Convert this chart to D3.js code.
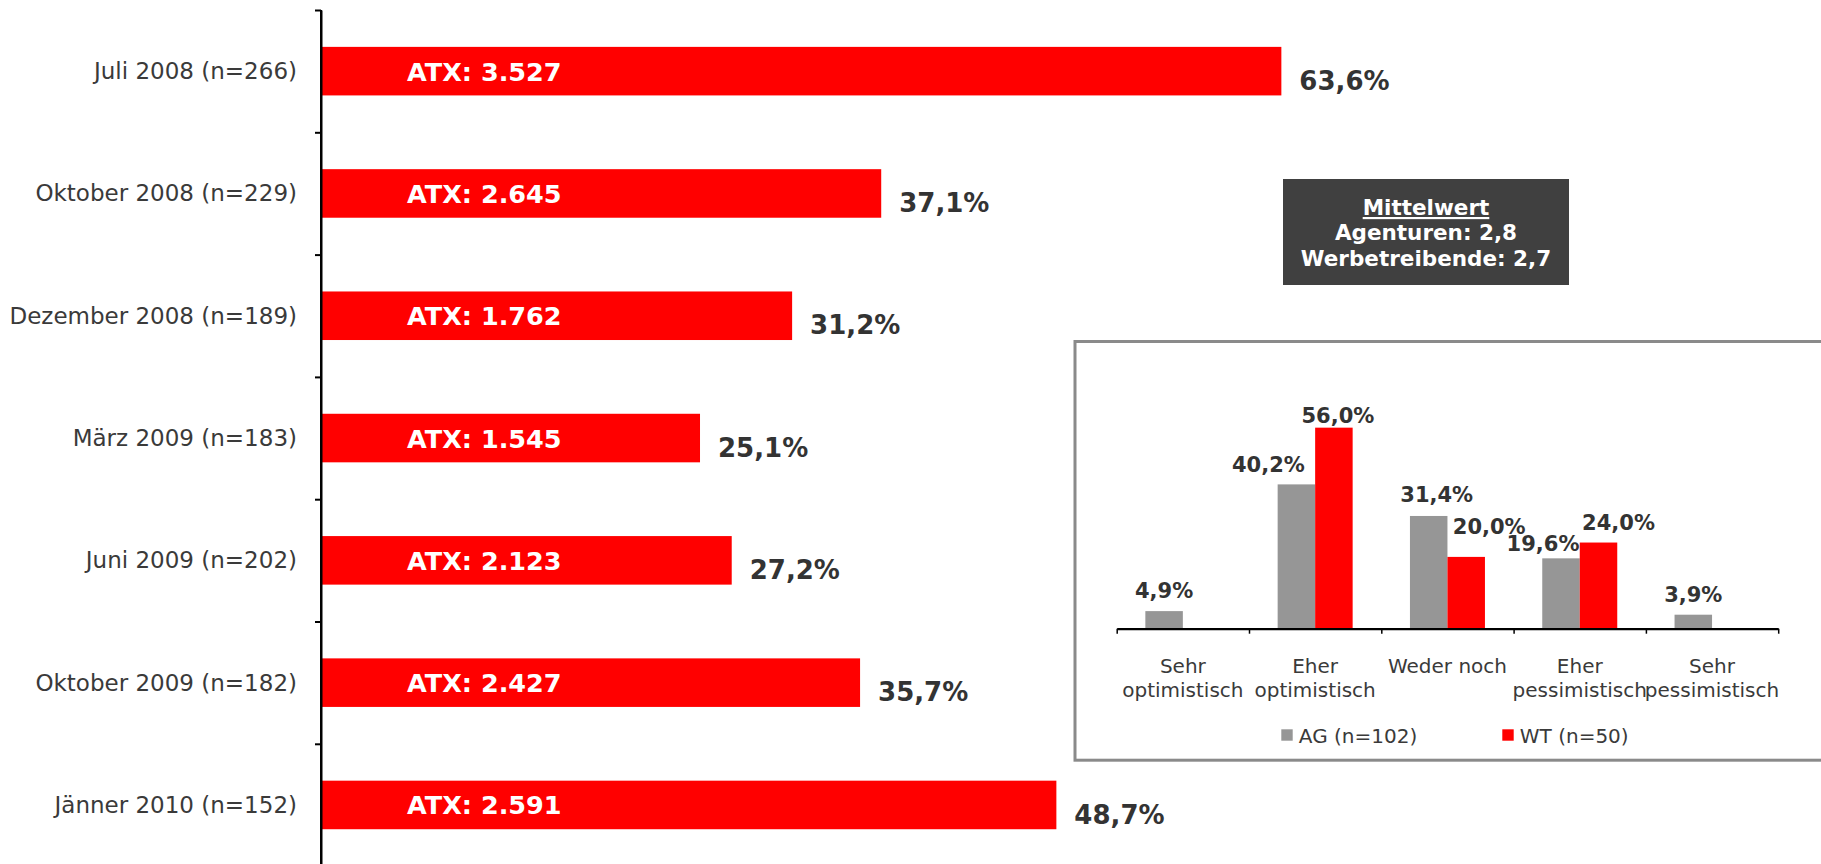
<!DOCTYPE html>
<html><head><meta charset="utf-8">
<script src="https://cdn.jsdelivr.net/npm/d3@7"></script>
<style>html,body{margin:0;padding:0;background:#fff;}svg{display:block;font-family:"DejaVu Sans",Verdana,sans-serif;}</style>
</head><body>
<script>
// ---- data ----
const periods = ["Juli 2008 (n=266)", "Oktober 2008 (n=229)", "Dezember 2008 (n=189)", "März 2009 (n=183)", "Juni 2009 (n=202)", "Oktober 2009 (n=182)", "Jänner 2010 (n=152)"];
const optimismShare = [63.6, 37.1, 31.2, 25.1, 27.2, 35.7, 48.7];
const atxValues = [3527, 2645, 1762, 1545, 2123, 2427, 2591];

const insetCategories = ["Sehr\noptimistisch", "Eher\noptimistisch", "Weder noch", "Eher\npessimistisch", "Sehr\npessimistisch"];
const agValues = [4.9, 40.2, 31.4, 19.6, 3.9];
const wtValues = [null, 56.0, 20.0, 24.0, null];
const seriesNames = ["AG (n=102)", "WT (n=50)"];
const meanLines = ["Mittelwert", "Agenturen: 2,8", "Werbetreibende: 2,7"];

// ---- drawing ----
(function () {
const W = 1821, H = 864;
const de = d3.formatLocale({decimal: ",", thousands: ".", grouping: [3], currency: ["", "€"]});
const fmtPct = v => de.format(".1f")(v) + "%";
const fmtAtx = de.format(",");

const svg = d3.select("body").append("svg").attr("width", W).attr("height", H);

// main chart
const axisX = 321, topY = 10, slot = 122.3;
const y = d3.scaleBand().domain(periods).range([topY, topY + slot * periods.length]).paddingInner(0.603).paddingOuter(0.3015);
const x = d3.scaleLinear().domain([0, 100]).range([axisX, axisX + 1510]);
const yTicks = d3.scaleLinear().domain([0, periods.length]).range([topY, topY + slot * periods.length]);

const main = svg.append("g");
main.selectAll("rect.bar").data(periods).join("rect")
  .attr("class", "bar")
  .attr("x", x(0)).attr("y", d => y(d))
  .attr("width", (d, i) => x(optimismShare[i]) - x(0))
  .attr("height", y.bandwidth())
  .attr("fill", "#ff0000");

main.append("g").attr("transform", `translate(${axisX},0)`)
  .call(d3.axisLeft(yTicks).ticks(periods.length).tickSize(6).tickSizeOuter(0).tickFormat(""))
  .call(g => g.selectAll("line").attr("stroke", "#000").attr("stroke-width", 2))
  .call(g => g.select(".domain").attr("stroke", "#000").attr("stroke-width", 2));
main.append("line").attr("x1", axisX).attr("x2", axisX).attr("y1", topY).attr("y2", H).attr("stroke", "#000").attr("stroke-width", 2);

const cy = d => y(d) + y.bandwidth() / 2;
main.selectAll("text.cat").data(periods).join("text")
  .attr("class", "cat").attr("x", 297).attr("y", d => cy(d) + 8)
  .attr("text-anchor", "end").attr("font-size", 23).attr("fill", "#3a3a3a").text(d => d);

main.selectAll("text.atx").data(periods).join("text")
  .attr("class", "atx").attr("x", x(0) + 86).attr("y", d => cy(d) + 9.5)
  .attr("font-size", 25.5).attr("font-weight", "bold").attr("fill", "#fff")
  .text((d, i) => "ATX: " + fmtAtx(atxValues[i]));

main.selectAll("text.pct").data(periods).join("text")
  .attr("class", "pct").attr("x", (d, i) => x(optimismShare[i]) + 18).attr("y", d => cy(d) + 18.7)
  .attr("font-size", 26).attr("font-weight", "bold").attr("fill", "#333")
  .text((d, i) => fmtPct(optimismShare[i]));

// Mittelwert box
const mb = svg.append("g");
mb.append("rect").attr("x", 1283).attr("y", 179).attr("width", 286).attr("height", 106).attr("fill", "#404040");
mb.selectAll("text").data(meanLines).join("text")
  .attr("x", 1426).attr("y", (d, i) => 215 + i * 25.3)
  .attr("text-anchor", "middle").attr("font-size", 21.5).attr("font-weight", "bold").attr("fill", "#fff")
  .attr("text-decoration", (d, i) => i === 0 ? "underline" : null)
  .text(d => d);

// inset panel
const inset = svg.append("g");
inset.append("rect").attr("x", 1075).attr("y", 341.5).attr("width", 800).attr("height", 418.7)
  .attr("fill", "#fff").attr("stroke", "#8a8a8a").attr("stroke-width", 3);

const base = 628.7;
const ix = d3.scaleBand().domain(insetCategories).range([1116.7, 1778.2]).padding(0);
const iy = d3.scaleLinear().domain([0, 60]).range([base, base - 215.4]);
const bw = 37.5;
const series = [
  {name: seriesNames[0], values: agValues, color: "#969696", off: -bw},
  {name: seriesNames[1], values: wtValues, color: "#ff0000", off: 0}
];
// manual label nudges mimicking the reference's hand-placed labels [dx, dy]
const nudges = [
  [[0, 0], [-28, 0], [8, -1], [-18, 5.5], [0, 0]],
  [[0, 0], [4, 8], [23, -10], [20, 0], [0, 0]]
];
series.forEach((s, si) => {
  const data = insetCategories.map((c, i) => ({c, v: s.values[i], i})).filter(d => d.v != null);
  inset.selectAll(`rect.s${si}`).data(data).join("rect")
    .attr("class", `s${si}`)
    .attr("x", d => ix(d.c) + ix.bandwidth() / 2 + s.off)
    .attr("y", d => iy(d.v)).attr("width", bw).attr("height", d => base - iy(d.v))
    .attr("fill", s.color);
  inset.selectAll(`text.l${si}`).data(data).join("text")
    .attr("class", `l${si}`)
    .attr("x", d => ix(d.c) + ix.bandwidth() / 2 + s.off + bw / 2 + nudges[si][d.i][0])
    .attr("y", d => iy(d.v) - 12.7 + nudges[si][d.i][1])
    .attr("text-anchor", "middle").attr("font-size", 21).attr("font-weight", "bold").attr("fill", "#333")
    .text(d => fmtPct(d.v));
});

const ixTicks = d3.scaleLinear().domain([0, insetCategories.length]).range(ix.range());
inset.append("g").attr("transform", `translate(0,${base})`)
  .call(d3.axisBottom(ixTicks).ticks(insetCategories.length).tickSize(5).tickSizeOuter(0).tickFormat(""))
  .call(g => g.selectAll("line").attr("stroke", "#000").attr("stroke-width", 1.5))
  .call(g => g.select(".domain").attr("stroke", "#000").attr("stroke-width", 2.3));

inset.selectAll("text.icat").data(insetCategories).join("text")
  .attr("class", "icat").attr("text-anchor", "middle").attr("font-size", 20).attr("fill", "#3a3a3a")
  .each(function(d) {
    const t = d3.select(this);
    d.split("\n").forEach((line, k) => {
      t.append("tspan").attr("x", ix(d) + ix.bandwidth() / 2).attr("y", 673.3 + k * 23.4).text(line);
    });
  });

// legend
const legX = [1281.3, 1502.3];
const leg = inset.selectAll("g.leg").data(series).join("g").attr("class", "leg");
leg.append("rect").attr("x", (d, i) => legX[i]).attr("y", 729.3).attr("width", 11.4).attr("height", 11.4).attr("fill", d => d.color);
leg.append("text").attr("x", (d, i) => legX[i] + 17.5).attr("y", 743.3)
  .attr("font-size", 20).attr("fill", "#3a3a3a").text(d => d.name);
})();
</script>
</body></html>
